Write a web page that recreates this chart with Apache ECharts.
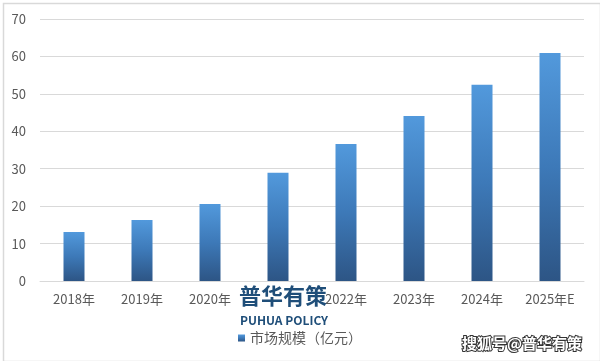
<!DOCTYPE html>
<html><head><meta charset="utf-8">
<script src="https://cdn.jsdelivr.net/npm/echarts@6/dist/echarts.min.js"></script>
<style>html,body{margin:0;padding:0;background:#fff}#c{width:600px;height:361px}</style>
</head><body><div id="c"></div>
<script>
var categories = ['2018年','2019年','2020年','2021年','2022年','2023年','2024年','2025年E'];
var seriesName = '市场规模（亿元）';
var values = [13.1, 16.3, 20.6, 28.9, 36.6, 44.1, 52.4, 60.9];
var yTicks = {min: 0, max: 70, interval: 10};

var chart = echarts.init(document.getElementById('c'), null, {renderer: 'canvas'});
var font = '"Noto Sans CJK SC", "Noto Sans", sans-serif';
chart.setOption({
  animation: false,
  backgroundColor: '#fff',
  textStyle: {fontFamily: font},
  grid: {left: 40, right: 16, top: 19, bottom: 80, containLabel: false},
  xAxis: {
    type: 'category', data: categories,
    axisLine: {show: true, lineStyle: {color: '#d9d9d9'}},
    axisTick: {show: false},
    axisLabel: {color: '#595959', fontSize: 13, margin: 12, fontFamily: font, interval: 0}
  },
  yAxis: {
    type: 'value', min: yTicks.min, max: yTicks.max, interval: yTicks.interval,
    axisLine: {show: false}, axisTick: {show: false},
    splitLine: {lineStyle: {color: '#d9d9d9'}},
    axisLabel: {color: '#595959', fontSize: 13, margin: 14, fontFamily: font}
  },
  legend: {
    data: [seriesName], left: 233, top: 326, icon: 'rect', itemWidth: 7, itemHeight: 7, itemGap: 5,
    textStyle: {color: '#595959', fontSize: 14, fontFamily: font}
  },
  series: [{
    name: seriesName, type: 'bar', data: values, barWidth: 21,
    itemStyle: {color: new echarts.graphic.LinearGradient(0, 0, 0, 1, [
      {offset: 0, color: '#5299dc'}, {offset: 0.5, color: '#3d79b8'}, {offset: 1, color: '#2d5585'}
    ], false)}
  }],
  graphic: [
    {type: 'rect', left: 1, top: 1, shape: {width: 597, height: 358}, style: {fill: 'none', stroke: '#d9d9d9', lineWidth: 1.5}, z: 100},
    {type: 'rect', left: 238, top: 287, shape: {width: 88, height: 25}, style: {fill: '#fff'}, z: 101},
    {type: 'text', left: 239, top: 285, style: {text: '普华有策', fill: '#1f4e79', font: 'bold 22px ' + font}, z: 102},
    {type: 'text', left: 240, top: 314, style: {text: 'PUHUA POLICY', fill: '#1f4e79', font: 'bold 12px ' + font}, z: 102},
    {type: 'text', left: 461, top: 335, style: {text: '搜狐号@普华有策', fill: '#fff', stroke: '#333', lineWidth: 2, font: 'bold 15px ' + font}, z: 102}
  ]
});
</script></body></html>
